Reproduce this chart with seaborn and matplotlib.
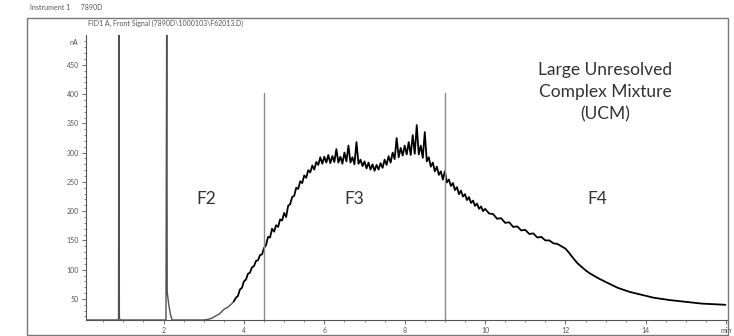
import numpy as np
import pandas as pd
import matplotlib
matplotlib.use('Agg')
import matplotlib.pyplot as plt
import seaborn as sns
from matplotlib.patches import Rectangle

# %%

# Chromatogram trace (retention time in min, signal in nA)

time_early = [0.07, 0.86, 0.88, 0.89, 0.90, 0.92, 2.06, 2.08, 2.09, 2.13,
              2.17, 2.21, 3.00, 3.10, 3.20, 3.30, 3.40, 3.50, 3.60, 3.70,
              3.75]
signal_early = [14, 14, 16, 600, 18, 14, 14, 600, 62, 40,
                24, 14, 14, 15, 17, 21, 25, 32, 36, 42,
                46]

time_hump = [3.75, 3.80, 3.85, 3.90, 3.95, 4.00, 4.05, 4.10, 4.15, 4.20,
             4.25, 4.30, 4.35, 4.40, 4.45, 4.50, 4.55, 4.60, 4.65, 4.70,
             4.75, 4.80, 4.85, 4.90, 4.95, 5.00, 5.05, 5.10, 5.15, 5.20,
             5.25, 5.30, 5.35, 5.40, 5.45, 5.50, 5.55, 5.60, 5.65, 5.70,
             5.75, 5.80, 5.85, 5.90, 5.95, 6.00, 6.05, 6.10, 6.15, 6.20,
             6.25, 6.30, 6.35, 6.40, 6.45, 6.50, 6.55, 6.60, 6.65, 6.70,
             6.75, 6.80, 6.85, 6.90, 6.95, 7.00, 7.05, 7.10, 7.15, 7.20,
             7.25, 7.30, 7.35, 7.40, 7.45, 7.50, 7.55, 7.60, 7.65, 7.70,
             7.75, 7.80, 7.85, 7.90, 7.95, 8.00, 8.05, 8.10, 8.15, 8.20,
             8.25, 8.30, 8.35, 8.40, 8.45, 8.50, 8.55, 8.60, 8.65, 8.70,
             8.75, 8.80, 8.85, 8.90, 8.95, 9.00, 9.05, 9.10, 9.15, 9.20,
             9.25, 9.30, 9.35, 9.40, 9.45, 9.50, 9.55, 9.60, 9.65, 9.70,
             9.75, 9.80, 9.85, 9.90, 9.95, 10.00]
signal_hump = [46, 52, 55, 66, 69, 80, 83, 93, 95, 104,
               106, 115, 116, 125, 126, 137, 142, 156, 155, 170,
               165, 176, 173, 186, 184, 197, 190, 209, 212, 224,
               226, 240, 238, 251, 248, 261, 257, 270, 266, 278,
               271, 284, 279, 292, 281, 293, 283, 296, 282, 294,
               284, 306, 283, 293, 281, 300, 285, 312, 283, 292,
               280, 318, 281, 288, 277, 285, 273, 283, 271, 280,
               269, 279, 271, 282, 274, 288, 279, 294, 283, 300,
               289, 325, 292, 308, 295, 312, 297, 318, 296, 330,
               298, 347, 297, 312, 291, 335, 285, 292, 276, 283,
               268, 276, 262, 268, 254, 268, 249, 254, 243, 248,
               236, 241, 229, 235, 225, 229, 219, 224, 214, 218,
               209, 213, 204, 208, 200, 204]

time_tail = [10.1, 10.2, 10.3, 10.4, 10.5, 10.6, 10.7, 10.8, 10.9, 11.0,
             11.1, 11.2, 11.3, 11.4, 11.5, 11.6, 11.7, 11.8, 11.9, 12.0,
             12.1, 12.2, 12.3, 12.4, 12.5, 12.6, 12.8, 13.0, 13.3, 13.6,
             13.9, 14.2, 14.6, 15.0, 15.4, 15.98]
signal_tail = [196, 195, 187, 188, 180, 181, 173, 174, 167, 168,
               161, 162, 155, 156, 150, 150, 145, 144, 140, 136,
               128, 119, 111, 105, 99, 94, 86, 79, 69, 62,
               57, 52, 48, 45, 42, 40]

fraction_cuts = [4.49, 9.0]
fraction_labels = ['F2', 'F3', 'F4']
fraction_label_x = [3.05, 6.75, 12.8]

# %%

early = pd.DataFrame({'time': time_early, 'signal': signal_early})
ucm = pd.DataFrame({'time': time_hump + time_tail,
                    'signal': signal_hump + signal_tail})

sns.set_style('ticks')
plt.rcParams['font.family'] = ['Lato', 'DejaVu Sans']

fig = plt.figure(figsize=(7.34, 3.36), dpi=100)
ax = fig.add_axes([86 / 734, 16 / 336, 641 / 734, 285 / 336])

# Solvent peaks (drawn thinner / greyer, as in the report)
sns.lineplot(x='time', y='signal', data=early, ax=ax, color='#505050',
             linewidth=1.0, estimator=None, sort=False)
# UCM hump
sns.lineplot(x='time', y='signal', data=ucm, ax=ax, color='black',
             linewidth=1.3, estimator=None, sort=False)

# Fraction dividers
for c in fraction_cuts:
    ax.plot([c, c], [14, 402], color='#8a8a8a', linewidth=1.0)

for lab, x in zip(fraction_labels, fraction_label_x):
    ax.text(x, 220, lab, fontsize=12.5, color='#333333', ha='center',
            va='center')

ax.text(0.81, 0.80, 'Large Unresolved\nComplex Mixture\n(UCM)',
        transform=ax.transAxes, fontsize=12.5, color='#333333',
        ha='center', va='center', linespacing=1.45)

ax.set_xlim(0.07, 16.02)
ax.set_ylim(14, 501)

ax.set_xticks([2, 4, 6, 8, 10, 12, 14, 16])
ax.set_xticklabels(['2', '4', '6', '8', '10', '12', '14', 'min'])
ax.set_xticks(np.arange(0.5, 16, 0.5), minor=True)
ax.set_yticks([50, 100, 150, 200, 250, 300, 350, 400, 450])
ax.set_yticks(np.arange(20, 500, 10), minor=True)
ax.tick_params(axis='both', which='major', labelsize=5, colors='#555555',
               length=3, width=0.6, pad=2)
ax.tick_params(axis='both', which='minor', length=1.5, width=0.5,
               colors='#555555')
ax.set_xlabel('')
ax.set_ylabel('')
ax.text(-0.012, 0.975, 'nA', transform=ax.transAxes, fontsize=5,
        color='#555555', ha='right', va='center')

sns.despine(ax=ax)
for s in ['left', 'bottom']:
    ax.spines[s].set_color('#555555')
    ax.spines[s].set_linewidth(0.8)

# Outer report frame and header
fig.patches.append(Rectangle((27 / 734, 1 / 336), 701 / 734, 317 / 336,
                             transform=fig.transFigure, fill=False,
                             edgecolor='#777777', linewidth=1.0))
fig.text(30 / 734, 1 - 7 / 336, 'Instrument 1      7890D', fontsize=5,
         color='#555555', va='center')
fig.text(88 / 734, 1 - 23 / 336,
         'FID1 A, Front Signal (7890D\\1000103\\F62013.D)', fontsize=5,
         color='#555555', va='center')

plt.savefig('out.png', dpi=100)
